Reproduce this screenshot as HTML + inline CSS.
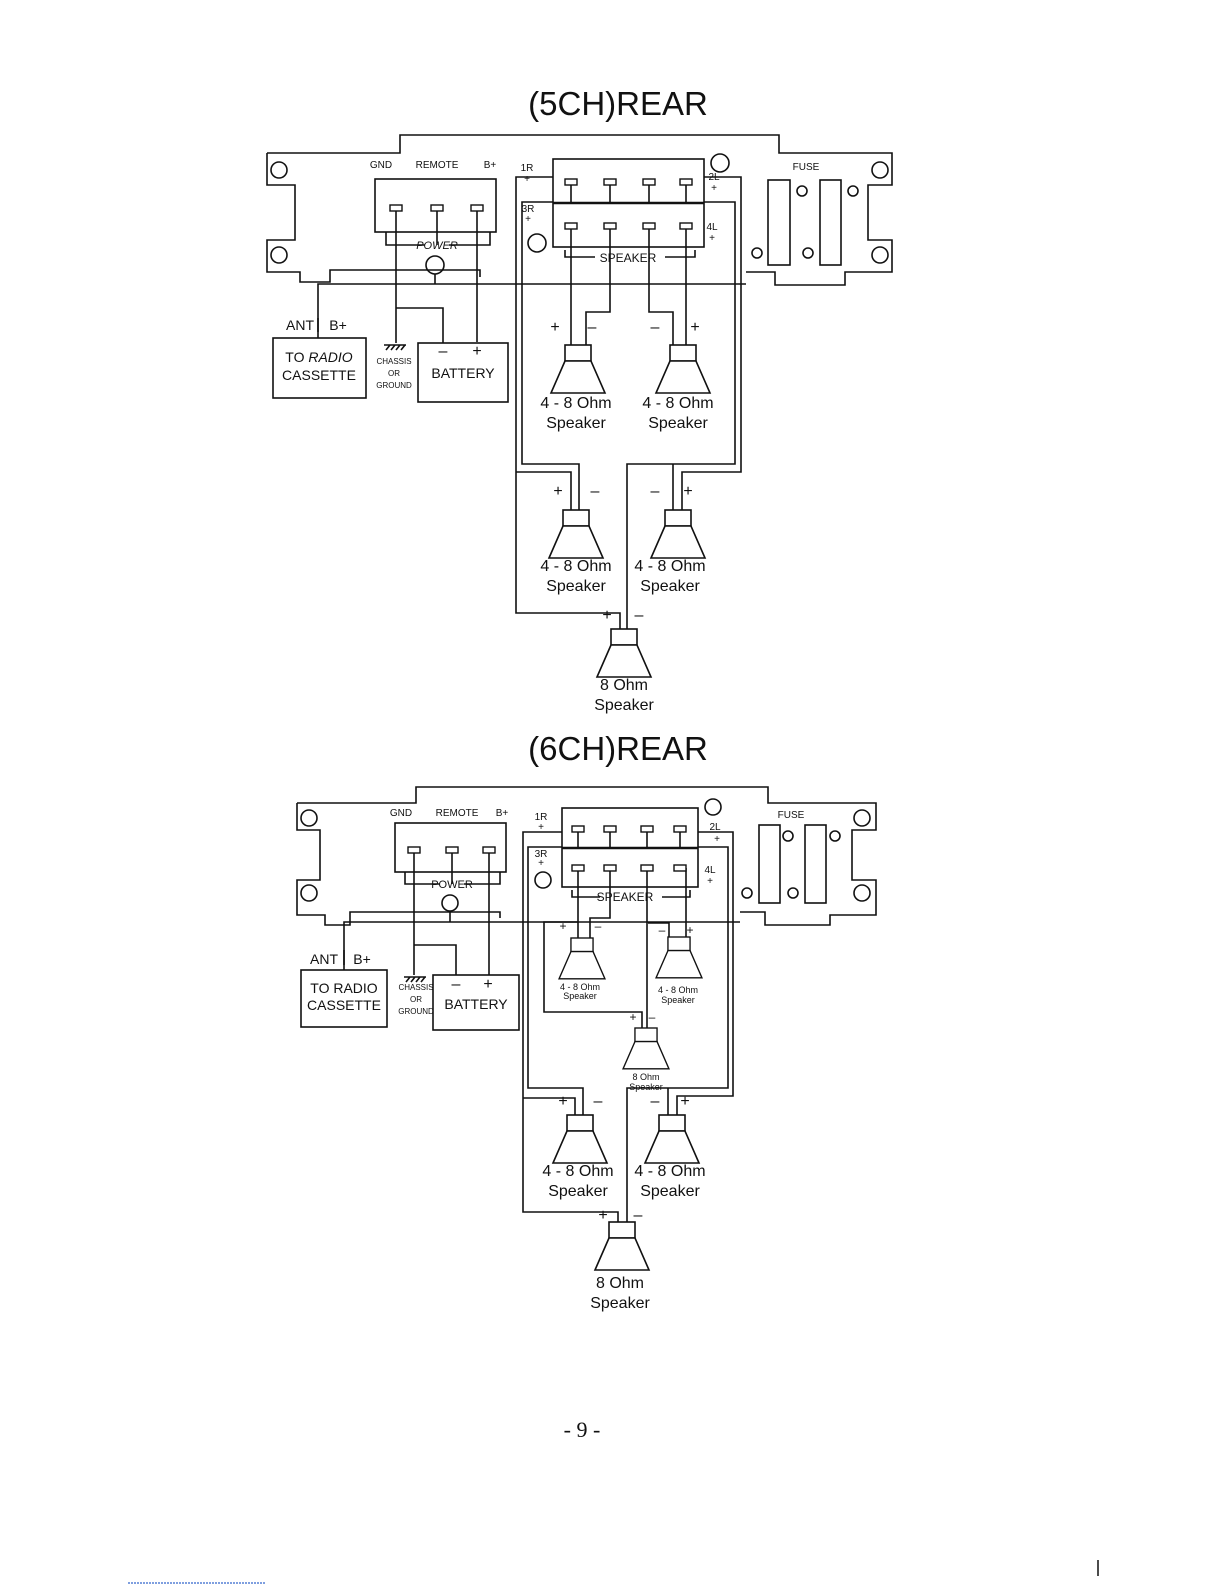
<!DOCTYPE html>
<html><head><meta charset="utf-8"><style>
html,body{margin:0;padding:0;background:#fff}
svg{display:block}
text{font-family:"Liberation Sans",sans-serif;fill:#111}
</style></head><body>
<svg width="1225" height="1585" viewBox="0 0 1225 1585" xmlns="http://www.w3.org/2000/svg">
<defs>
<g id="spk"><rect x="-13" y="0" width="26" height="16" fill="#fff" stroke="#111" stroke-width="1.6"/><path d="M-13,16 L-27,48 L27,48 L13,16 Z" fill="#fff" stroke="#111" stroke-width="1.6"/></g>
<g id="term"><rect x="-6" y="-3" width="12" height="6" fill="#fff" stroke="#111" stroke-width="1.4"/></g>
</defs>
<g fill="none" stroke="#111" stroke-width="1.6">
<!-- ===== 5CH ===== -->
<path d="M267,153 H400 V135 H779 V153 H892 V185 H868 V240 H892 V272 H845 V285 H775 V272 H746 M267,153 V185 H295 V240 H267 V272 H300 V282 H330 V270 H480 V277"/>
<circle cx="279" cy="170" r="8"/><circle cx="279" cy="255" r="8"/>
<circle cx="880" cy="170" r="8"/><circle cx="880" cy="255" r="8"/>
<circle cx="435" cy="265" r="9"/><circle cx="720" cy="163" r="9"/><circle cx="537" cy="243" r="9"/>
<rect x="768" y="180" width="22" height="85"/><rect x="820" y="180" width="21" height="85"/>
<circle cx="802" cy="191" r="5"/><circle cx="853" cy="191" r="5"/><circle cx="757" cy="253" r="5"/><circle cx="808" cy="253" r="5"/>
<rect x="375" y="179" width="121" height="53"/>
<path d="M396,208 V343 M437,208 V245 M477,208 V342 M386,232 V245 H425 M449,245 H490 V232"/>
<path d="M435,274 V284 H318 V338 M396,308 H443 V343 M318,284 H746"/>
<path d="M384,345 H406 M386,350 l4,-5 M391,350 l4,-5 M396,350 l4,-5 M401,350 l4,-5"/>
<rect x="273" y="338" width="93" height="60"/><rect x="418" y="343" width="90" height="59"/>
<path d="M318,318 V332"/>
<rect x="553" y="159" width="151" height="88"/><path d="M553,203 H704" stroke-width="2.4"/>
<path d="M571,182 V203 M610,182 V203 M649,182 V203 M686,182 V203"/>
<path d="M571,226 V345 M610,226 V312 H586 V345 M649,226 V312 H673 V345 M686,226 V345"/>
<path d="M565,250 V257 H595 M665,257 H695 V250"/>
<path d="M553,177 H516 V613 H620 V629 M553,202 H522 V464 H579 V510 M516,472 H571 V510"/>
<path d="M704,177 H741 V472 H682 V510 M704,202 H735 V464 H627 V629 M673,464 V510"/>
<!-- ===== 6CH ===== -->
<path d="M297,803 H416 V787 H768 V803 H876 V830 H852 V880 H876 V915 H830 V925 H765 V912 H740 M297,803 V830 H320 V880 H297 V915 H325 V925 H350 V912 H500 V918"/>
<circle cx="309" cy="818" r="8"/><circle cx="309" cy="893" r="8"/>
<circle cx="862" cy="818" r="8"/><circle cx="862" cy="893" r="8"/>
<circle cx="450" cy="903" r="8"/><circle cx="713" cy="807" r="8"/><circle cx="543" cy="880" r="8"/>
<rect x="759" y="825" width="21" height="78"/><rect x="805" y="825" width="21" height="78"/>
<circle cx="788" cy="836" r="5"/><circle cx="835" cy="836" r="5"/><circle cx="747" cy="893" r="5"/><circle cx="793" cy="893" r="5"/>
<rect x="395" y="823" width="111" height="49"/>
<path d="M414,850 V975 M452,850 V884 M489,850 V975 M405,872 V884 H440 M464,884 H500 V872"/>
<path d="M450,911 V922 H344 V970 M414,945 H456 V975 M344,922 H740"/>
<path d="M404,977 H426 M406,982 l4,-5 M411,982 l4,-5 M416,982 l4,-5 M421,982 l4,-5"/>
<rect x="301" y="970" width="86" height="57"/><rect x="433" y="975" width="86" height="55"/>
<path d="M344,950 V965"/>
<rect x="562" y="808" width="136" height="79"/><path d="M562,848 H698" stroke-width="2.4"/>
<path d="M578,829 V848 M610,829 V848 M647,829 V848 M680,829 V848"/>
<path d="M578,868 V922 H544 V1012 H642 V1028 M578,922 V938 M610,868 V918 H590 V938 M647,868 V1028 M669,938 V923 H648 M686,868 V937"/>
<path d="M572,890 V897 H600 M662,897 H690 V890"/>
<path d="M562,832 H523 V1212 H618 V1222 M562,847 H528 V1088 H583 V1115 M523,1098 H575 V1115"/>
<path d="M698,832 H733 V1096 H677 V1115 M698,847 H728 V1088 H627 V1222 M668,1088 V1115"/>
</g>
<g>
<use href="#term" x="396" y="208"/><use href="#term" x="437" y="208"/><use href="#term" x="477" y="208"/>
<use href="#term" x="571" y="182"/><use href="#term" x="610" y="182"/><use href="#term" x="649" y="182"/><use href="#term" x="686" y="182"/>
<use href="#term" x="571" y="226"/><use href="#term" x="610" y="226"/><use href="#term" x="649" y="226"/><use href="#term" x="686" y="226"/>
<use href="#term" x="414" y="850"/><use href="#term" x="452" y="850"/><use href="#term" x="489" y="850"/>
<use href="#term" x="578" y="829"/><use href="#term" x="610" y="829"/><use href="#term" x="647" y="829"/><use href="#term" x="680" y="829"/>
<use href="#term" x="578" y="868"/><use href="#term" x="610" y="868"/><use href="#term" x="647" y="868"/><use href="#term" x="680" y="868"/>
<use href="#spk" x="578" y="345"/><use href="#spk" x="683" y="345"/>
<use href="#spk" x="576" y="510"/><use href="#spk" x="678" y="510"/><use href="#spk" x="624" y="629"/>
<g transform="translate(582,938) scale(0.85)"><use href="#spk"/></g>
<g transform="translate(679,937) scale(0.85)"><use href="#spk"/></g>
<g transform="translate(646,1028) scale(0.85)"><use href="#spk"/></g>
<use href="#spk" x="580" y="1115"/><use href="#spk" x="672" y="1115"/><use href="#spk" x="622" y="1222"/>
</g>
<!-- text -->
<text x="618" y="115" font-size="33" text-anchor="middle">(5CH)REAR</text>
<text x="618" y="760" font-size="33" text-anchor="middle">(6CH)REAR</text>
<g font-size="10" text-anchor="middle">
<text x="381" y="168">GND</text><text x="437" y="168">REMOTE</text><text x="490" y="168">B+</text>
<text x="806" y="170">FUSE</text>
<text x="527" y="171">1R</text><text x="527" y="182">+</text>
<text x="528" y="212">3R</text><text x="528" y="222">+</text>
<text x="714" y="180">2L</text><text x="714" y="191">+</text>
<text x="712" y="230">4L</text><text x="712" y="241">+</text>
<text x="437" y="249" font-style="italic" font-size="11">POWER</text>
<text x="628" y="262" font-size="12">SPEAKER</text>
<text x="401" y="816">GND</text><text x="457" y="816">REMOTE</text><text x="502" y="816">B+</text>
<text x="791" y="818">FUSE</text>
<text x="541" y="820">1R</text><text x="541" y="830">+</text>
<text x="541" y="857">3R</text><text x="541" y="866">+</text>
<text x="715" y="830">2L</text><text x="717" y="842">+</text>
<text x="710" y="873">4L</text><text x="710" y="884">+</text>
<text x="452" y="888" font-size="11">POWER</text>
<text x="625" y="901" font-size="12">SPEAKER</text>
</g>
<g font-size="14" text-anchor="middle">
<text x="300" y="330">ANT</text><text x="338" y="330">B+</text>
<text x="319" y="362">TO <tspan font-style="italic">RADIO</tspan></text><text x="319" y="380">CASSETTE</text>
<text x="443" y="356" font-size="16">–</text><text x="477" y="356" font-size="16">+</text>
<text x="463" y="378">BATTERY</text>
<text x="324" y="964">ANT</text><text x="362" y="964">B+</text>
<text x="344" y="993">TO RADIO</text><text x="344" y="1010">CASSETTE</text>
<text x="456" y="989" font-size="16">–</text><text x="488" y="989" font-size="16">+</text>
<text x="476" y="1009">BATTERY</text>
</g>
<g font-size="8" text-anchor="middle">
<text x="394" y="364">CHASSIS</text><text x="394" y="376">OR</text><text x="394" y="388">GROUND</text>
<text x="416" y="990">CHASSIS</text><text x="416" y="1002">OR</text><text x="416" y="1014">GROUND</text>
</g>
<g font-size="16" text-anchor="middle">
<text x="555" y="332">+</text><text x="592" y="332">–</text><text x="655" y="332">–</text><text x="695" y="332">+</text>
<text x="576" y="408">4 - 8 Ohm</text><text x="576" y="428">Speaker</text>
<text x="678" y="408">4 - 8 Ohm</text><text x="678" y="428">Speaker</text>
<text x="558" y="496">+</text><text x="595" y="496">–</text><text x="655" y="496">–</text><text x="688" y="496">+</text>
<text x="576" y="571">4 - 8 Ohm</text><text x="576" y="591">Speaker</text>
<text x="670" y="571">4 - 8 Ohm</text><text x="670" y="591">Speaker</text>
<text x="607" y="620">+</text><text x="639" y="620">–</text>
<text x="624" y="690">8 Ohm</text><text x="624" y="710">Speaker</text>
<text x="563" y="1106">+</text><text x="598" y="1106">–</text><text x="655" y="1106">–</text><text x="685" y="1106">+</text>
<text x="578" y="1176">4 - 8 Ohm</text><text x="578" y="1196">Speaker</text>
<text x="670" y="1176">4 - 8 Ohm</text><text x="670" y="1196">Speaker</text>
<text x="603" y="1220">+</text><text x="638" y="1220">–</text>
<text x="620" y="1288">8 Ohm</text><text x="620" y="1308">Speaker</text>
</g>
<g font-size="12" text-anchor="middle">
<text x="563" y="930">+</text><text x="598" y="930">–</text><text x="662" y="934">–</text><text x="690" y="934">+</text>
<text x="633" y="1021">+</text><text x="652" y="1021">–</text>
</g>
<g font-size="9" text-anchor="middle">
<text x="580" y="990">4 - 8 Ohm</text><text x="580" y="999">Speaker</text>
<text x="678" y="993">4 - 8 Ohm</text><text x="678" y="1003">Speaker</text>
<text x="646" y="1080">8 Ohm</text><text x="646" y="1090">Speaker</text>
</g>
<text x="582" y="1437" font-size="22" text-anchor="middle" style="font-family:'Liberation Serif',serif">- 9 -</text>
<line x1="128" y1="1583" x2="266" y2="1583" stroke="#36c" stroke-width="1.2" stroke-dasharray="2,1"/>
<line x1="1098" y1="1560" x2="1098" y2="1576" stroke="#111" stroke-width="1.5"/>
</svg>
</body></html>
